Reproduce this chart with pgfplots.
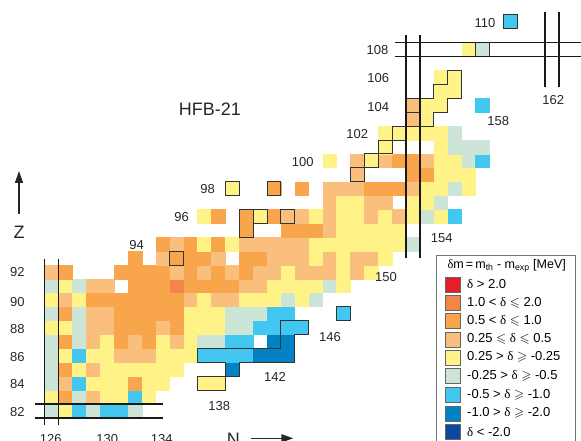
\documentclass[border=0pt]{standalone}
\usepackage{amssymb}
\usepackage{fontspec}
\setmainfont{Liberation Sans}
\newfontfamily\serifgreek{Liberation Serif}
\usepackage{pgfplots}
\usepackage{pgfplotstable}
\pgfplotsset{compat=1.18}
\usetikzlibrary{arrows.meta}
\definecolor{cR}{RGB}{230,30,40}
\definecolor{cD}{RGB}{243,133,72}
\definecolor{cO}{RGB}{248,165,75}
\definecolor{cL}{RGB}{250,190,125}
\definecolor{cY}{RGB}{255,243,135}
\definecolor{cG}{RGB}{205,229,214}
\definecolor{cC}{RGB}{66,200,240}
\definecolor{cB}{RGB}{0,130,196}
\definecolor{cK}{RGB}{12,72,160}
\newcommand{\dl}{{\serifgreek δ}}
\newcommand{\fs}{\fontsize{13}{15}\selectfont}

\pgfplotstableread{
N Z c
126 82 G
127 82 Y
128 82 C
129 82 G
130 82 C
131 82 C
132 82 G
126 83 Y
127 83 O
128 83 G
129 83 L
130 83 Y
131 83 Y
132 83 C
133 83 Y
126 84 G
127 84 L
128 84 C
129 84 Y
130 84 Y
131 84 Y
132 84 O
133 84 Y
134 84 Y
137 84 Y
138 84 Y
126 85 G
127 85 O
128 85 Y
129 85 L
130 85 Y
131 85 Y
132 85 Y
133 85 Y
134 85 Y
135 85 Y
139 85 B
126 86 G
127 86 Y
128 86 C
129 86 Y
130 86 Y
131 86 L
132 86 L
133 86 L
134 86 Y
135 86 Y
136 86 Y
137 86 C
138 86 C
139 86 C
140 86 C
141 86 B
142 86 B
143 86 B
126 87 G
127 87 O
128 87 G
129 87 L
130 87 Y
131 87 O
132 87 L
133 87 O
134 87 Y
135 87 L
136 87 Y
137 87 G
138 87 G
139 87 C
140 87 C
142 87 B
143 87 B
126 88 Y
127 88 Y
128 88 G
129 88 L
130 88 L
131 88 O
132 88 O
133 88 O
134 88 L
135 88 O
136 88 Y
137 88 Y
138 88 Y
139 88 G
140 88 G
141 88 C
142 88 C
143 88 C
144 88 C
126 89 G
127 89 O
128 89 G
129 89 L
130 89 L
131 89 O
132 89 O
133 89 O
134 89 O
135 89 O
136 89 Y
137 89 Y
138 89 Y
139 89 G
140 89 G
141 89 G
142 89 C
143 89 C
147 89 C
126 90 Y
127 90 L
128 90 Y
129 90 O
130 90 O
131 90 O
132 90 O
133 90 O
134 90 O
135 90 O
136 90 L
137 90 Y
138 90 L
139 90 L
140 90 Y
141 90 Y
142 90 Y
143 90 G
144 90 Y
145 90 G
126 91 G
127 91 Y
128 91 G
129 91 L
130 91 L
132 91 O
133 91 O
134 91 O
135 91 D
136 91 O
137 91 O
138 91 O
139 91 O
140 91 L
141 91 L
142 91 Y
143 91 Y
144 91 Y
145 91 Y
146 91 G
147 91 Y
126 92 L
127 92 O
131 92 O
132 92 O
133 92 O
134 92 O
135 92 L
136 92 O
137 92 L
138 92 O
139 92 L
140 92 O
141 92 L
142 92 L
143 92 Y
144 92 L
145 92 L
146 92 L
147 92 Y
148 92 L
149 92 Y
132 93 O
134 93 L
135 93 O
136 93 O
137 93 O
138 93 L
140 93 O
141 93 O
142 93 L
143 93 L
144 93 L
145 93 Y
146 93 L
147 93 Y
148 93 L
149 93 L
150 93 Y
134 94 O
135 94 L
136 94 O
137 94 Y
138 94 O
139 94 Y
140 94 L
141 94 L
142 94 L
143 94 L
144 94 L
145 94 Y
146 94 Y
147 94 Y
148 94 Y
149 94 Y
150 94 Y
151 94 Y
152 94 G
140 95 O
143 95 O
144 95 O
145 95 O
146 95 L
147 95 Y
148 95 Y
149 95 Y
150 95 Y
151 95 Y
137 96 Y
138 96 O
140 96 O
141 96 Y
142 96 O
143 96 L
144 96 L
145 96 Y
146 96 L
147 96 Y
148 96 Y
149 96 L
150 96 Y
151 96 L
152 96 Y
153 96 G
154 96 Y
155 96 C
146 97 L
147 97 Y
148 97 Y
149 97 L
150 97 L
152 97 Y
153 97 Y
154 97 G
139 98 Y
142 98 O
144 98 O
146 98 L
147 98 L
148 98 L
149 98 O
150 98 O
151 98 O
152 98 L
153 98 Y
154 98 Y
155 98 G
156 98 Y
148 99 L
152 99 O
153 99 O
154 99 Y
155 99 Y
156 99 Y
146 100 Y
148 100 L
149 100 Y
150 100 L
151 100 O
152 100 O
153 100 L
154 100 Y
155 100 Y
156 100 G
157 100 C
150 101 Y
154 101 Y
155 101 G
156 101 G
157 101 G
150 102 Y
151 102 Y
152 102 Y
153 102 Y
154 102 Y
155 102 G
152 103 L
153 103 Y
152 104 L
153 104 Y
154 104 Y
157 104 C
154 105 Y
155 105 Y
154 106 Y
155 106 Y
156 108 Y
157 108 G
159 110 C
}\cells

\begin{document}
\begin{tikzpicture}[x=1pt,y=1pt]
\begin{axis}[at={(0,0)}, anchor=south west, scale only axis,
  width=581pt, height=441pt,
  xmin=122.295, xmax=164.09, ymin=79.84, ymax=111.57,
  hide axis, clip=false, set layers]
\addplot[scatter, only marks, scatter src=explicit symbolic, mark size=6.8pt,
  scatter/classes={
    D={mark=square*, cD}, O={mark=square*, cO}, L={mark=square*, cL},
    Y={mark=square*, cY}, G={mark=square*, cG}, C={mark=square*, cC},
    B={mark=square*, cB}}]
  table[x=N, y=Z, meta=c]{\cells};
% single boxed cells
\addplot[on layer=axis foreground, only marks, mark=square, mark size=6.95pt, mark options={draw=black!80, line width=0.9pt}]
  coordinates {(135,93) (147,89) (143,96) (139,98) (142,98) (148,99) (149,100) (150,101) (151,102) (152,103) (152,104) (159,110) (157,108)};
% outlined groups
\addplot[on layer=axis foreground, black!80, line width=0.9pt] coordinates {(136.5,86.5) (142.5,86.5) (142.5,88.5) (144.5,88.5) (144.5,87.5) (143.5,87.5) (143.5,85.5) (139.5,85.5) (139.5,84.5) (138.5,84.5) (138.5,85.5) (136.5,85.5) (136.5,86.5)};
\addplot[on layer=axis foreground, black!80, line width=0.9pt] coordinates {(136.5,83.5) (138.5,83.5) (138.5,84.5) (136.5,84.5) (136.5,83.5)};
\addplot[on layer=axis foreground, black!80, line width=0.9pt] coordinates {(139.5,94.5) (140.5,94.5) (140.5,95.5) (141.5,95.5) (141.5,96.5) (139.5,96.5) (139.5,94.5)};
\addplot[on layer=axis foreground, black!80, line width=0.9pt] coordinates {(140.5,95.5) (140.5,96.5)};
\addplot[on layer=axis foreground, black!80, line width=0.9pt] coordinates {(153.5,105.5) (154.5,105.5) (154.5,106.5) (155.5,106.5) (155.5,104.5) (154.5,104.5) (154.5,103.5) (153.5,103.5) (153.5,102.5) (152.5,102.5) (152.5,104.5) (153.5,104.5) (153.5,105.5)};
% magic number lines
\addplot[on layer=axis foreground, black!90, line width=1.6pt] coordinates {(124.8,81.5) (134,81.5)};
\addplot[on layer=axis foreground, black!90, line width=1.6pt] coordinates {(124.8,82.5) (134,82.5)};
\addplot[on layer=axis foreground, black!90, line width=1.6pt] coordinates {(125.5,81.0) (125.5,92.9)};
\addplot[on layer=axis foreground, black!90, line width=1.6pt] coordinates {(126.5,81.0) (126.5,92.9)};
\addplot[on layer=axis foreground, black!90, line width=1.6pt] coordinates {(151.5,93.0) (151.5,109.05)};
\addplot[on layer=axis foreground, black!90, line width=1.6pt] coordinates {(152.5,93.0) (152.5,109.05)};
\addplot[on layer=axis foreground, black!90, line width=1.6pt] coordinates {(150.7,107.5) (164.1,107.5)};
\addplot[on layer=axis foreground, black!90, line width=1.6pt] coordinates {(150.7,108.5) (164.1,108.5)};
\addplot[on layer=axis foreground, black!90, line width=1.6pt] coordinates {(161.5,105.3) (161.5,110.7)};
\addplot[on layer=axis foreground, black!90, line width=1.6pt] coordinates {(162.5,105.3) (162.5,110.7)};
\end{axis}
% labels
\begin{scope}[every node/.style={font=\fs, text=black!85, inner sep=0pt}]
\node at (17.3,168.7) {92};
\node at (17.3,139.3) {90};
\node at (17.3,111.7) {88};
\node at (17.3,84.3) {86};
\node at (17.3,56.7) {84};
\node at (17.3,28.7) {82};
\node at (136.7,196) {94};
\node at (181.7,224.3) {96};
\node at (207.7,251.7) {98};
\node at (302.7,278.7) {100};
\node at (357.3,307) {102};
\node at (378.3,334.3) {104};
\node at (378.3,362.7) {106};
\node at (377.5,391) {108};
\node at (485,417.7) {110};
\node at (553.3,341) {162};
\node at (498.3,320.3) {158};
\node at (441.7,202.7) {154};
\node at (386,164) {150};
\node at (330,103.7) {146};
\node at (275,63.7) {142};
\node at (219.3,35) {138};
\node at (50.7,1.5) {126};
\node at (107.3,1.5) {130};
\node at (161.7,1.5) {134};
\end{scope}
\node[font=\fontsize{18}{20}\selectfont, text=black!85, inner sep=0pt] at (210,331.7) {HFB-21};
\node[font=\fontsize{18}{20}\selectfont, text=black!85, inner sep=0pt] at (19,208.7) {Z};
\node[font=\fontsize{18}{20}\selectfont, text=black!85, inner sep=0pt] at (233.3,2) {N};
\draw[black!85, line width=1.5pt, -{Triangle[length=12pt,width=8pt]}] (19,227) -- (19,270);
\draw[black!85, line width=1.5pt, -{Triangle[length=12pt,width=8pt]}] (250.7,2.7) -- (293.3,2.7);
% legend
\draw[black!55, line width=0.8pt] (436,-5) rectangle (575.7,185.3);
\node[font=\fontsize{12.5}{14}\selectfont, inner sep=0pt] at (506.7,175.5) {\dl m\,=\,m\textsubscript{th} - m\textsubscript{exp} [MeV]};
\begin{scope}[every node/.style={font=\fs, anchor=west, inner sep=0pt}]
\foreach \yy/\cc/\tt in {156.7/cR/{\dl\ > 2.0}, 138.3/cD/{1.0 < \dl\ $\leqslant$ 2.0}, 120/cO/{0.5 < \dl\ $\leqslant$ 1.0}, 101.7/cL/{0.25 $\leqslant$ \dl\ $\leqslant$ 0.5}, 83.7/cY/{0.25 > \dl\ $\geqslant$ -0.25}, 65/cG/{-0.25 > \dl\ $\geqslant$ -0.5}, 46/cC/{-0.5 > \dl\ $\geqslant$ -1.0}, 27.7/cB/{-1.0 > \dl\ $\geqslant$ -2.0}, 9.3/cK/{\dl\ < -2.0}}{
  \filldraw[fill=\cc, draw=black!60, line width=0.5pt] (445,\yy-7.5) rectangle (460,\yy+7.5);
  \node at (467,\yy) {\tt};
}
\end{scope}
\pgfresetboundingbox
\path[use as bounding box] (0,0) rectangle (581,441);
\end{tikzpicture}
\end{document}
